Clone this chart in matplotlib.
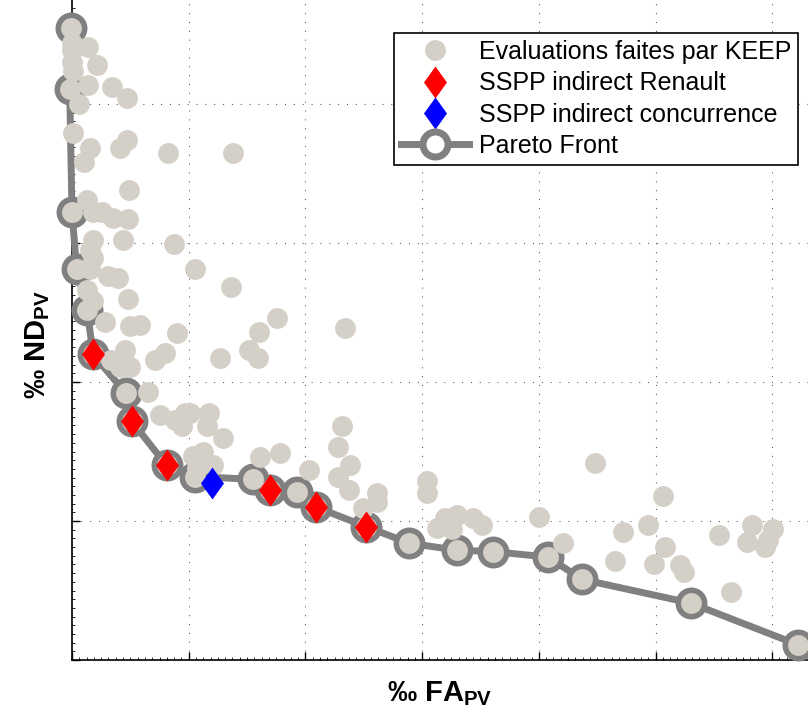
import numpy as np
import matplotlib
matplotlib.use("Agg")
import matplotlib.pyplot as plt
from matplotlib.ticker import MultipleLocator

plt.rcParams['font.family'] = ['Liberation Sans', 'DejaVu Sans']
plt.rcParams['mathtext.fontset'] = 'custom'
plt.rcParams['mathtext.rm'] = 'Liberation Sans'
plt.rcParams['mathtext.bf'] = 'Liberation Sans:bold'

# --- data (grid units, no tick labels in the original) ---
pareto_x = [-0.01, -0.02, 0.00, 0.04, 0.13, 0.18, 0.46, 0.51, 0.81, 1.05, 1.55,
            1.70, 1.93, 2.09, 2.52, 2.89, 3.30, 3.61, 4.08, 4.37, 5.30, 6.22]
pareto_y = [4.55, 4.11, 3.22, 2.81, 2.52, 2.20, 1.92, 1.72, 1.40, 1.32, 1.30,
            1.22, 1.21, 1.10, 0.96, 0.84, 0.79, 0.78, 0.74, 0.58, 0.41, 0.11]

eval_x = [0.00, 0.00, 0.14, 0.00, 0.21, 0.01, 0.14, 0.34, 0.47, 0.06, 0.01, 0.47,
          0.41, 0.15, 0.10, 0.82, 1.38, 0.49, 0.13, 0.18, 0.26, 0.35, 0.48, 0.18,
          0.44, 0.87, 0.15, 0.18, 0.15, 1.05, 0.31, 0.39, 1.36, 0.13, 0.48, 0.18,
          0.28, 0.50, 0.58, 0.90, 1.76, 1.60, 2.34, 0.80, 0.71, 1.27, 1.52, 1.59,
          0.33, 0.45, 0.50, 0.41, 0.65, 0.75, 0.88, 0.97, 0.94, 1.17, 1.16, 1.29,
          1.01, 1.04, 1.12, 1.21, 1.07, 1.61, 1.78, 2.03, 2.31, 2.28, 2.38, 2.28,
          2.37, 2.61, 2.61, 2.49, 3.04, 3.04, 3.13, 3.20, 3.30, 3.44, 3.51, 3.26,
          4.00, 4.21, 4.48, 4.72, 4.65, 4.94, 5.06, 5.08, 4.99, 5.21, 5.24, 5.54,
          5.65, 5.83, 6.01, 5.78, 5.94, 5.96]
eval_y = [4.44, 4.39, 4.41, 4.30, 4.28, 4.24, 4.14, 4.12, 4.04, 4.00, 3.79, 3.74,
          3.68, 3.68, 3.58, 3.65, 3.65, 3.38, 3.31, 3.22, 3.22, 3.18, 3.17, 3.02,
          3.02, 2.99, 2.95, 2.89, 2.81, 2.81, 2.76, 2.75, 2.68, 2.66, 2.60, 2.58,
          2.43, 2.40, 2.41, 2.35, 2.46, 2.36, 2.39, 2.21, 2.16, 2.17, 2.23, 2.17,
          2.16, 2.23, 2.11, 2.11, 1.93, 1.76, 1.73, 1.78, 1.68, 1.78, 1.68, 1.60,
          1.78, 1.47, 1.50, 1.40, 1.38, 1.46, 1.49, 1.37, 1.68, 1.53, 1.40, 1.32,
          1.22, 1.20, 1.14, 1.09, 1.29, 1.20, 0.95, 1.02, 1.04, 1.02, 0.97, 0.94,
          1.03, 0.84, 1.42, 0.92, 0.71, 0.97, 1.18, 0.81, 0.69, 0.68, 0.63, 0.90,
          0.49, 0.97, 0.94, 0.85, 0.81, 0.86]

renault_x = [0.18, 0.51, 0.81, 1.70, 2.09, 2.52]
renault_y = [2.20, 1.72, 1.40, 1.22, 1.10, 0.96]
concur_x = [1.20]
concur_y = [1.27]

labels = ['Evaluations faites par KEEP', 'SSPP indirect Renault',
          'SSPP indirect concurrence', 'Pareto Front']

dot_color = '#D4D0C8'
diamond = [(0, 1), (0.72, 0), (0, -1), (-0.72, 0), (0, 1)]

fig = plt.figure(figsize=(8.08, 7.15), dpi=100)
ax = fig.add_axes([72 / 808, 55 / 715, 736 / 808, 660 / 715])

ax.plot(pareto_x, pareto_y, color='#808080', lw=5, marker='o', ms=18,
        mfc='white', mec='#808080', mew=5, zorder=3, clip_on=False, label=labels[3])
all_x = list(eval_x) + list(pareto_x)
all_y = list(eval_y) + list(pareto_y)
ax.plot(all_x, all_y, ls='none', marker='o', ms=15, mfc=dot_color, mec='none',
        zorder=4, clip_on=False, label=labels[0])
ax.plot(renault_x, renault_y, ls='none', marker=diamond, ms=23, mfc='#FF0000',
        mec='none', zorder=5, clip_on=False, label=labels[1])
ax.plot(concur_x, concur_y, ls='none', marker=diamond, ms=23, mfc='#0000FF',
        mec='none', zorder=5, clip_on=False, label=labels[2])

ax.set_xlim(0, 736 / 116.7)
ax.set_ylim(0, 660 / 139)
ax.xaxis.set_major_locator(MultipleLocator(1))
ax.yaxis.set_major_locator(MultipleLocator(1))
ax.xaxis.set_minor_locator(MultipleLocator(1 / 16))
ax.yaxis.set_minor_locator(MultipleLocator(1 / 16))
ax.tick_params(which='both', direction='in', labelbottom=False, labelleft=False)
ax.tick_params(which='major', length=6, width=1)
ax.tick_params(which='minor', length=2, width=0.6)
ax.grid(True, which='major', color='#555555', lw=0.75, ls=(0, (1, 7.5)))
ax.set_axisbelow(True)
for s in ['top', 'right']:
    ax.spines[s].set_visible(False)
for s in ['left', 'bottom']:
    ax.spines[s].set_linewidth(1.2)

ax.set_xlabel(r'‰ $\mathbf{FA_{PV}}$', fontsize=21, fontweight='bold', labelpad=14)
ax.set_ylabel(r'‰ $\mathbf{ND_{PV}}$', fontsize=21, fontweight='bold')
ax.yaxis.set_label_coords(-0.027, 0.477)

h, l = ax.get_legend_handles_labels()
order = [1, 2, 3, 0]
leg = ax.legend([h[i] for i in order], [l[i] for i in order], loc='upper right',
                bbox_to_anchor=(798 / 808, 1 - 33 / 715), bbox_transform=fig.transFigure,
                fontsize=18, numpoints=1, fancybox=False, framealpha=1,
                edgecolor='black', borderpad=0.28, handlelength=2.7,
                handletextpad=0.4, labelspacing=0.29, borderaxespad=0)
leg.get_frame().set_linewidth(1.2)

fig.savefig('out.png', dpi=100)
